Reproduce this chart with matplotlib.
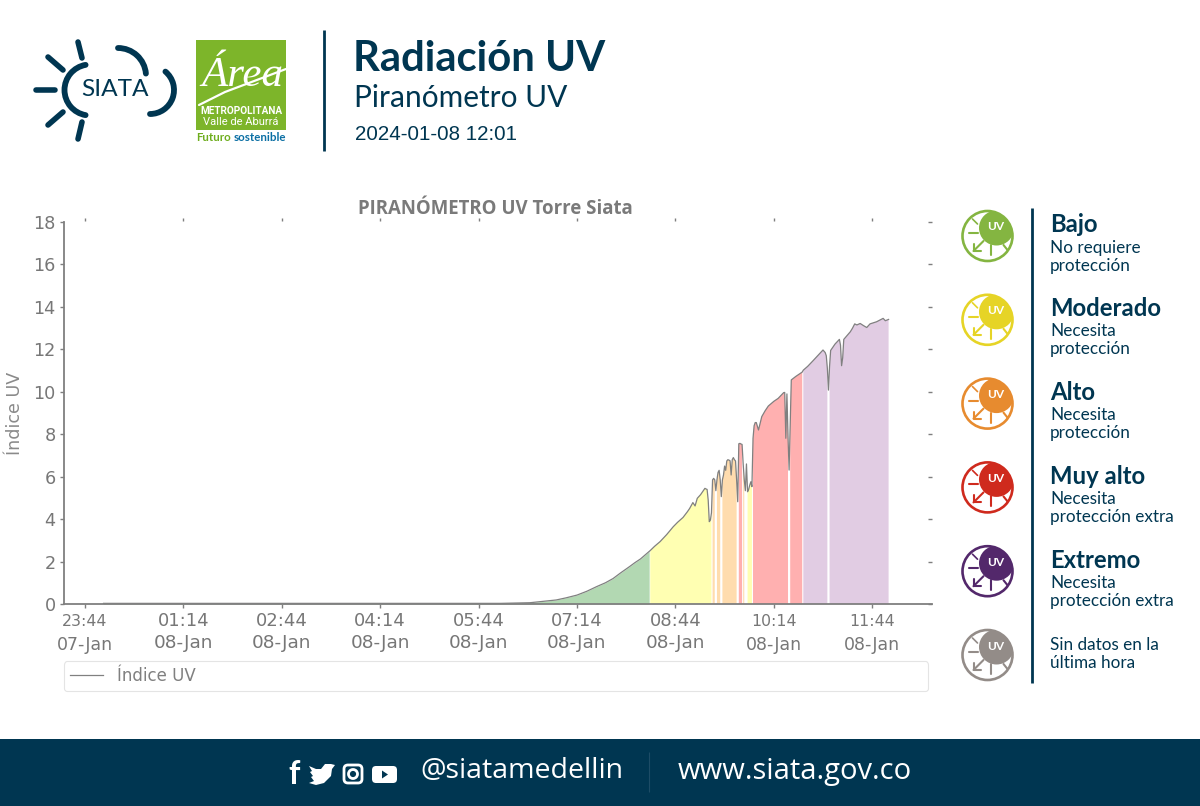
import numpy as np
import matplotlib
matplotlib.use('Agg')
import matplotlib.pyplot as plt
from matplotlib.patches import Arc, Circle, FancyBboxPatch, Polygon, Rectangle

# minutes after 23:44 of 07-Jan
minutes = [17, 120, 240, 330, 380, 407, 431, 440, 450, 459, 468, 476, 483, 490, 498, 503, 508, 516, 517, 521, 526, 532,
           538, 542, 547, 551, 553, 556, 558, 560, 563,
           567, 568, 569, 570, 571, 572, 573, 574, 575, 576, 577, 578, 579, 580, 581, 582, 583, 584, 585, 586, 587,
           588, 589, 590, 591, 592, 593, 594, 595, 596, 597, 598, 599, 600, 601, 602, 603, 604, 605, 606, 607, 608,
           609, 610, 611, 612, 613, 614, 616, 619, 622, 625, 630, 634, 637, 639, 640, 641, 642, 643, 644, 645, 646, 650, 656, 657,
           661, 666, 671, 675, 677, 678, 679, 680, 681, 682, 686, 690, 691, 692, 693, 694, 697, 700, 702, 704, 706, 709, 712, 715, 718, 721, 724, 727, 730,
           732, 735]
uv_index = [0.03, 0.03, 0.03, 0.03, 0.03, 0.06, 0.19, 0.29, 0.42, 0.6, 0.82, 1.0, 1.2, 1.47, 1.76, 1.95, 2.12, 2.48, 2.52,
            2.72, 2.94, 3.27, 3.64, 3.85, 4.08, 4.35, 4.5, 4.78,
            4.62, 4.98, 5.15, 5.45, 5.42, 5.4, 4.9, 3.88, 3.95, 4.3, 5.85, 5.92, 5.85, 5.34, 5.85, 6.2, 6.3, 5.85, 5.06,
            5.85, 6.08, 6.5, 6.3, 6.74, 6.8, 6.78, 6.75, 6.08, 6.8, 6.9, 6.8, 6.74, 5.85, 4.82, 7.55, 7.57, 7.54, 7.52,
            6.6, 5.85, 5.34, 6.6, 5.29, 5.4, 5.6, 5.76, 5.53, 7.8, 8.4, 8.55, 8.55, 8.2, 8.83, 9.1, 9.33, 9.55, 9.69, 9.85, 9.96, 9.97,
            7.81, 9.9, 7.9, 6.31, 8.5, 10.56, 10.72, 10.93, 11.02, 11.2, 11.47, 11.75, 11.97, 11.85, 11.7, 11.1, 10.08, 11.2,
            11.95, 12.25, 12.47, 12.2, 11.23, 11.6, 12.47, 12.65, 12.83, 13.0, 13.2, 13.15, 13.22, 13.12, 13.03, 13.2, 13.25, 13.3, 13.38, 13.46, 13.35, 13.41]

tick_minutes = [0, 90, 180, 270, 360, 450, 540, 630, 720]
tick_hours = ['23:44', '01:14', '02:44', '04:14', '05:44', '07:14', '08:44', '10:14', '11:44']
tick_days = ['07-Jan', '08-Jan', '08-Jan', '08-Jan', '08-Jan', '08-Jan', '08-Jan', '08-Jan', '08-Jan']
y_ticks = [0, 2, 4, 6, 8, 10, 12, 14, 16, 18]

band_limits = [0, 2.5, 5.8, 7.5, 11, 20]
band_colors = ['#b2d8b2', '#ffffb2', '#ffdcae', '#ffb0b0', '#e1cce3']

level_names = ['Bajo', 'Moderado', 'Alto', 'Muy alto', 'Extremo', '']
level_notes = ['No requiere\nprotección', 'Necesita\nprotección', 'Necesita\nprotección',
               'Necesita\nprotección extra', 'Necesita\nprotección extra', 'Sin datos en la\núltima hora']
level_colors = ['#84b541', '#e6d426', '#e78b2f', '#cf2a1d', '#53286b', '#938c88']

NAVY = '#003651'
GREY = '#7f7f7f'
W, H = 1200, 806

fig = plt.figure(figsize=(12, 8.06), dpi=100, facecolor='white')

# page layer, in image pixels
bg = fig.add_axes([0, 0, 1, 1])
bg.set_xlim(0, W)
bg.set_ylim(H, 0)
bg.axis('off')


def px_line(xs, ys, color=NAVY, lw=2.0, cap='round'):
    bg.plot(xs, ys, color=color, lw=lw, solid_capstyle=cap)


def px_arc(cx, cy, r, a1, a2, color=NAVY, lw=4.2):
    # y is inverted in this layer so angles run clockwise on screen
    bg.add_patch(Arc((cx, cy), 2*r, 2*r, theta1=a1, theta2=a2, color=color, lw=lw, capstyle='round'))


# SIATA logo
for xs, ys in [([36, 55], [90, 90]), ([48, 63], [57, 70]), ([78, 82], [42, 58]),
               ([48, 63], [125, 112]), ([82, 78], [122, 139])]:
    px_line(xs, ys, lw=4.0)
px_arc(90, 90, 25.5, 100, 260)
px_arc(118, 76, 28, 270, 355)
px_arc(150, 90, 24, 310, 90)
bg.text(115, 90, 'SIATA', family='Lato', fontsize=17.6, color=NAVY, ha='center', va='center')

# Area metropolitana logo
bg.add_patch(Rectangle((196, 40), 90, 90, color='#7db52a', lw=0))
bg.text(242, 76, 'Área', family='Liberation Serif', style='italic', fontsize=31, color='white',
        ha='center', va='center')
px_line([199, 225, 286], [105, 92, 69], color='white', lw=1.6)
bg.text(241, 111, 'METROPOLITANA', family='Roboto', weight='bold', fontsize=7.2, color='white', ha='center', va='center')
bg.text(241, 122, 'Valle de Aburrá', family='Roboto', fontsize=8, color='white', ha='center', va='center')
bg.text(196, 137.5, 'Futuro', family='Lato', weight='bold', fontsize=8.3, color='#6fae1f', ha='left', va='center')
bg.text(286, 137.5, 'sostenible', family='Lato', weight='bold', fontsize=8.3, color='#0b6fa4', ha='right', va='center')

# header
px_line([324, 324], [30, 151], lw=2.0, cap='butt')
bg.text(353, 59, 'Radiación UV', family='Lato', weight='bold', fontsize=30.2, color=NAVY, ha='left', va='center')
bg.text(354, 98, 'Piranómetro UV', family='Lato', fontsize=21.5, color=NAVY, ha='left', va='center')
bg.text(355, 135, '2024-01-08 12:01', family='Liberation Sans', fontsize=14.8, color=NAVY, ha='left', va='center')

# level key on the right
px_line([1032, 1032], [208, 683], lw=2.0, cap='butt')
for i, (name, note, col) in enumerate(zip(level_names, level_notes, level_colors)):
    cy = 236 + i*83.8
    cx = 987.5
    ring = Circle((cx, cy), 25, fill=False, ec=col, lw=1.9)
    bg.add_patch(ring)
    blob = Circle((cx + 9, cy - 8), 17.5, color=col, lw=0)
    bg.add_patch(blob)
    blob.set_clip_path(ring)
    bg.text(cx + 8, cy - 9, 'UV', family='Lato', weight='bold', fontsize=8.6, color='white', ha='center', va='center')
    px_line([cx - 19, cx - 10], [cy - 3, cy - 3], color=col, lw=1.5)
    px_line([cx - 4, cx - 14], [cy + 5, cy + 15], color=col, lw=1.5)
    px_line([cx - 14, cx - 14, cx - 7], [cy + 8, cy + 15, cy + 15], color=col, lw=1.5)
    px_line([cx + 3, cx + 3], [cy + 9, cy + 19], color=col, lw=1.5)
    px_line([cx + 16, cx + 20], [cy + 9, cy + 14], color=col, lw=1.5)
    px_line([cx - 15, cx - 10], [cy - 17, cy - 12], color=col, lw=1.2)
    first, second = note.split('\n')
    if name:
        bg.text(1050, cy - 11, name, family='Lato', weight='bold', fontsize=17.2, color=NAVY, ha='left', va='center')
        bg.text(1050, cy + 11.5, first, family='Lato', fontsize=12.3, color=NAVY, ha='left', va='center')
        bg.text(1050, cy + 29.5, second, family='Lato', fontsize=12.3, color=NAVY, ha='left', va='center')
    else:
        bg.text(1050, cy - 9.5, first, family='Lato', fontsize=12.3, color=NAVY, ha='left', va='center')
        bg.text(1050, cy + 7.5, second, family='Lato', fontsize=12.3, color=NAVY, ha='left', va='center')

# footer band
bg.add_patch(Rectangle((0, 739), W, 67, color=NAVY, lw=0))
px_line([649, 649], [752, 792], color='#1d4c66', lw=0.8, cap='butt')
bg.text(294, 774, 'f', family='Lato', weight='bold', fontsize=23, color='white', ha='center', va='center')
bg.add_patch(Polygon([(309, 766), (316, 769), (321, 769), (325, 764), (331, 764), (335, 765), (332, 769), (331, 776),
                      (324, 783), (316, 785), (309, 783), (314, 781), (311, 777), (313, 776), (310, 772), (312, 771)],
                     color='white', lw=0))
bg.add_patch(FancyBboxPatch((344, 765), 18, 18, boxstyle='round,pad=0,rounding_size=4', fill=False, ec='white', lw=2))
bg.add_patch(Circle((353, 774), 4.5, fill=False, ec='white', lw=2))
bg.add_patch(FancyBboxPatch((372, 766), 25, 17, boxstyle='round,pad=0,rounding_size=4', color='white', lw=0))
bg.add_patch(Polygon([(382, 770.5), (382, 778.5), (388, 774.5)], color=NAVY, lw=0))
bg.text(420, 771, '@siatamedellin', family='Open Sans', fontsize=20.5, color='white', ha='left', va='center')
bg.text(678, 772, 'www.siata.gov.co', family='Open Sans', fontsize=21, color='white', ha='left', va='center')

# chart
ax = fig.add_axes([64/W, 1 - 604/H, (932 - 64)/W, (604 - 218)/H], facecolor='none')
t = np.array(minutes)
uv = np.array(uv_index)
ax.plot(t, uv, color='#808080', lw=0.9, label='Índice UV', zorder=3)
for lo, hi, col in zip(band_limits[:-1], band_limits[1:], band_colors):
    ax.fill_between(t, 0, uv, where=(uv >= lo) & (uv < hi), color=col, lw=0, zorder=2)

ax.set_xlim(-19.2, 774.7)
ax.set_ylim(0, 18.19)
ax.set_yticks(y_ticks)
ax.set_xticks(tick_minutes)
ax.set_xticklabels([])
for side in ['top', 'right']:
    ax.spines[side].set_visible(False)
for side in ['left', 'bottom']:
    ax.spines[side].set_color(GREY)
    ax.spines[side].set_linewidth(1.3)
ax.spines['left'].set_bounds(0, 18)
ax.tick_params(axis='y', direction='out', length=3, width=1, color=GREY, labelsize=12.7, labelcolor='#777777', pad=3)
ax.tick_params(axis='x', bottom=True, direction='out', length=3, width=1, color=GREY)
ax.set_ylabel('Índice UV', fontsize=12.6, color='#8a8a8a')
ax.yaxis.set_label_coords((24 - 64)/868, (604 - 413)/386)

# detached tick marks along the top and right edges of the plot
top_axis = ax.secondary_xaxis('top')
top_axis.set_xticks(tick_minutes)
top_axis.set_xticklabels([])
top_axis.spines['top'].set_visible(False)
top_axis.tick_params(direction='in', length=2.2, width=1, color=GREY)
right_axis = ax.secondary_yaxis('right')
right_axis.set_yticks(y_ticks)
right_axis.set_yticklabels([])
right_axis.spines['right'].set_visible(False)
right_axis.tick_params(direction='in', length=3, width=1, color=GREY)

small = {0, 7, 8}
for i, (m, hour, day) in enumerate(zip(tick_minutes, tick_hours, tick_days)):
    hour_size = 11.3 if i in small else 13
    day_size = 12.5 if i in small else 13.3
    day_y = -41 if i in small else -39
    ax.annotate(hour, xy=(m, 0), xycoords='data', xytext=(0, -17), textcoords='offset pixels', fontsize=hour_size,
                color='#777777', ha='center', va='center')
    ax.annotate(day, xy=(m, 0), xycoords='data', xytext=(0, day_y), textcoords='offset pixels', fontsize=day_size,
                color='#777777', ha='center', va='center')

bg.text(495.5, 209, 'PIRANÓMETRO UV Torre Siata', family='Open Sans', weight='bold', fontsize=13.4, color='#7a7a7a',
        ha='center', va='center')

leg = ax.legend(loc='lower left', bbox_to_anchor=(64/W, 1 - 691/H, (928 - 64)/W, (691 - 662)/H),
                bbox_transform=fig.transFigure, mode='expand', borderaxespad=0, frameon=True, fancybox=True,
                fontsize=12, labelcolor='#808080', edgecolor='#e4e4e4', framealpha=1, handlelength=2.0,
                handletextpad=0.85, borderpad=0.35)
leg.get_frame().set_linewidth(0.8)

fig.savefig('out.png', dpi=100)
